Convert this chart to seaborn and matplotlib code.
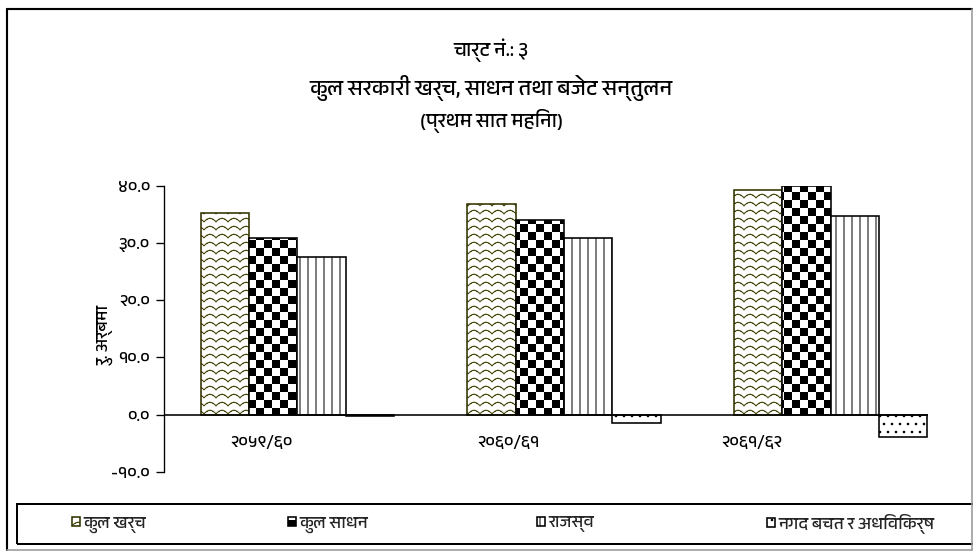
import warnings
warnings.filterwarnings("ignore")
import numpy as np
import pandas as pd
import matplotlib
matplotlib.use("Agg")
import matplotlib.pyplot as plt
import matplotlib.hatch as mhatch
import matplotlib.transforms as mtransforms
from matplotlib.path import Path
from matplotlib.lines import Line2D
from matplotlib.patches import Rectangle
from matplotlib import font_manager
from matplotlib.ft2font import FT2Font
from matplotlib.colors import to_rgba
import seaborn as sns

# ---------------- data ----------------
years = ["२०५९/६०", "२०६०/६१", "२०६१/६२"]
series = ["कुल खर्च", "कुल साधन", "राजस्व", "नगद बचत र अधिविकर्ष"]
kul_kharcha = [35.3, 36.8, 39.3]
kul_sadhan = [30.9, 34.0, 40.0]
rajaswa = [27.5, 30.9, 34.7]
nagad_bachat = [-0.3, -1.5, -3.9]
y_ticks = [-10, 0, 10, 20, 30, 40]
y_tick_labels = ["-१०.०", "०.०", "१०.०", "२०.०", "३०.०", "४०.०"]
title_top = "चार्ट नं.: ३"
title_main = "कुल सरकारी खर्च, साधन तथा बजेट सन्तुलन"
title_sub = "(प्रथम सात महिना)"
y_label = "रु. अर्बमा"

# ---------------- custom hatches ----------------
HATCH_LW_PX = 1.0
DPI = 96


class CheckerHatch(mhatch.HatchPatternBase):
    def __init__(self, hatch, density):
        self.n = 12 if 'c' in hatch else 0
        self.num_vertices = (self.n * self.n // 2) * 5

    def set_vertices_and_codes(self, vertices, codes):
        n = self.n
        s = 1.0 / n
        d = (HATCH_LW_PX / 2.0) / DPI
        vs, cs = [], []
        for i in range(n):
            for j in range(n):
                if (i + j) % 2 == 0:
                    x0, y0 = i * s + d, j * s + d
                    x1, y1 = (i + 1) * s - d, (j + 1) * s - d
                    vs += [[x0, y0], [x1, y0], [x1, y1], [x0, y1], [x0, y0]]
                    cs += [Path.MOVETO, Path.LINETO, Path.LINETO, Path.LINETO,
                           Path.CLOSEPOLY]
        vertices[:] = np.array(vs)
        codes[:] = np.array(cs)


class WaveHatch(mhatch.HatchPatternBase):
    rows = 12
    periods = 8
    pts = 8
    amp = 0.018

    def __init__(self, hatch, density):
        self.on = 'z' in hatch
        nseg = self.periods * self.pts
        self.num_vertices = (self.rows * nseg * 2) if self.on else 0

    def set_vertices_and_codes(self, vertices, codes):
        nseg = self.periods * self.pts
        xs = np.linspace(0, 1, nseg + 1)
        vs, cs = [], []
        for r in range(self.rows):
            yc = (r + 0.5) / self.rows
            ys = yc + self.amp * np.abs(np.sin(np.pi * self.periods * xs)) * 2 - self.amp
            for k in range(nseg):
                vs += [[xs[k], ys[k]], [xs[k + 1], ys[k + 1]]]
                cs += [Path.MOVETO, Path.LINETO]
        vertices[:] = np.array(vs)
        codes[:] = np.array(cs)


mhatch._hatch_types.append(CheckerHatch)
mhatch._hatch_types.append(WaveHatch)


# ---------------- fonts ----------------
def find_devanagari_font():
    test = [ord(c) for c in "कखर्०"]
    cands = sorted(font_manager.fontManager.ttflist,
                   key=lambda f: (0 if 'devanagari' in f.name.lower() else 1, f.name))
    checked = set()
    for f in cands:
        if f.fname in checked:
            continue
        checked.add(f.fname)
        try:
            cmap = FT2Font(f.fname).get_charmap()
        except Exception:
            continue
        if all(c in cmap for c in test):
            return f.name
    return None


sns.set_theme(style="white")
deva = find_devanagari_font()
families = ([deva] if deva else []) + ['DejaVu Sans']
plt.rcParams['font.family'] = families
plt.rcParams['hatch.linewidth'] = HATCH_LW_PX * 72.0 / DPI
plt.rcParams['axes.unicode_minus'] = False

# ---------------- figure ----------------
W, H = 973, 552
fig = plt.figure(figsize=(W / DPI, H / DPI), dpi=DPI)
fig.patch.set_facecolor('white')


def fx(px):
    return px / W


def fy(py):
    return 1 - py / H


ax = fig.add_axes([fx(164), fy(472), (928 - 164) / W, (472 - 185.7) / H])
ax.set_facecolor('white')

values = [kul_kharcha, kul_sadhan, rajaswa, nagad_bachat]
rows = [(y, s, v) for s, vals in zip(series, values) for y, v in zip(years, vals)]
df = pd.DataFrame(rows, columns=['year', 'series', 'value'])

group_width = 0.725
sns.barplot(data=df, x='year', y='value', hue='series', order=years,
            hue_order=series, width=group_width, palette=['white'] * 4,
            saturation=1, edgecolor='black', linewidth=1.1, errorbar=None,
            legend=False, ax=ax)

styles = [
    dict(hatch='z', edge='#333300', hcol='#4a4a10'),
    dict(hatch='c', edge='black', hcol='black'),
    dict(hatch='||', edge='black', hcol='black'),
    dict(hatch='..', edge='black', hcol='black'),
]
for cont, st in zip(ax.containers, styles):
    for p in cont.patches:
        p.set_facecolor('white')
        p.set_edgecolor(st['edge'])
        p.set_hatch(st['hatch'])
        p._hatch_color = to_rgba(st['hcol'])
        p.set_linewidth(1.2)

FS = 13
ax.set_xlim(-0.5, len(years) - 1 + group_width / 2 + 0.002)
ax.set_ylim(-10, 40)
ax.set_yticks(y_ticks)
ax.set_yticklabels(y_tick_labels, fontsize=FS)
ax.set_xticks([])
ax.set_xlabel('')
ax.set_ylabel('')
ax.tick_params(axis='y', direction='out', length=6, width=1, color='black',
               pad=4.5, left=True, labelcolor='black')
for side in ['top', 'right', 'bottom']:
    ax.spines[side].set_visible(False)
ax.spines['left'].set_color('black')
ax.spines['left'].set_linewidth(1)
ax.axhline(0, color='black', lw=1.2, zorder=5)

# category labels (shifted like the reference)
label_dx = [-36, -56, -79]
for i, (lab, dx) in enumerate(zip(years, label_dx)):
    off = mtransforms.ScaledTranslation(dx / DPI, 0, fig.dpi_scale_trans)
    ax.text(i, -4.8, lab, ha='center', va='center', fontsize=FS,
            color='black', transform=ax.transData + off)

# y label
fig.text(fx(106), fy(335), y_label, rotation=90, ha='center', va='center',
         fontsize=FS, color='black')

# titles
fig.text(fx(491), fy(50), title_top, ha='center', va='center', fontsize=15,
         color='black')
fig.text(fx(491), fy(88), title_main, ha='center', va='center', fontsize=16.5,
         fontweight='bold', color='black')
fig.text(fx(492), fy(121), title_sub, ha='center', va='center', fontsize=15,
         color='black')

# legend frame and entries
fig.add_artist(Rectangle((fx(17), fy(544)), fx(1100) - fx(17), fy(504) - fy(544),
                         transform=fig.transFigure, fill=False,
                         edgecolor='black', lw=1.5))
handle_x = [72, 288, 537, 767]
for cont, lab, hx in zip(ax.containers, series, handle_x):
    fig.legend(handles=[cont], labels=[lab], loc='center left',
               bbox_to_anchor=(fx(hx), fy(524)), frameon=False, fontsize=FS,
               handlelength=0.45, handleheight=0.45, handletextpad=0.2,
               borderpad=0, borderaxespad=0)

# outer border
fig.add_artist(Line2D([fx(7), fx(972)], [fy(9), fy(9)], transform=fig.transFigure,
                      color='black', lw=1.6))
fig.add_artist(Line2D([fx(7), fx(7)], [fy(9), fy(550)], transform=fig.transFigure,
                      color='black', lw=1.6))
fig.add_artist(Line2D([fx(972), fx(972)], [fy(9), fy(550)], transform=fig.transFigure,
                      color='#999999', lw=1.2))
fig.add_artist(Line2D([fx(7), fx(972)], [fy(550), fy(550)], transform=fig.transFigure,
                      color='#999999', lw=1.2))

fig.savefig('out.png', dpi=DPI, facecolor='white')
